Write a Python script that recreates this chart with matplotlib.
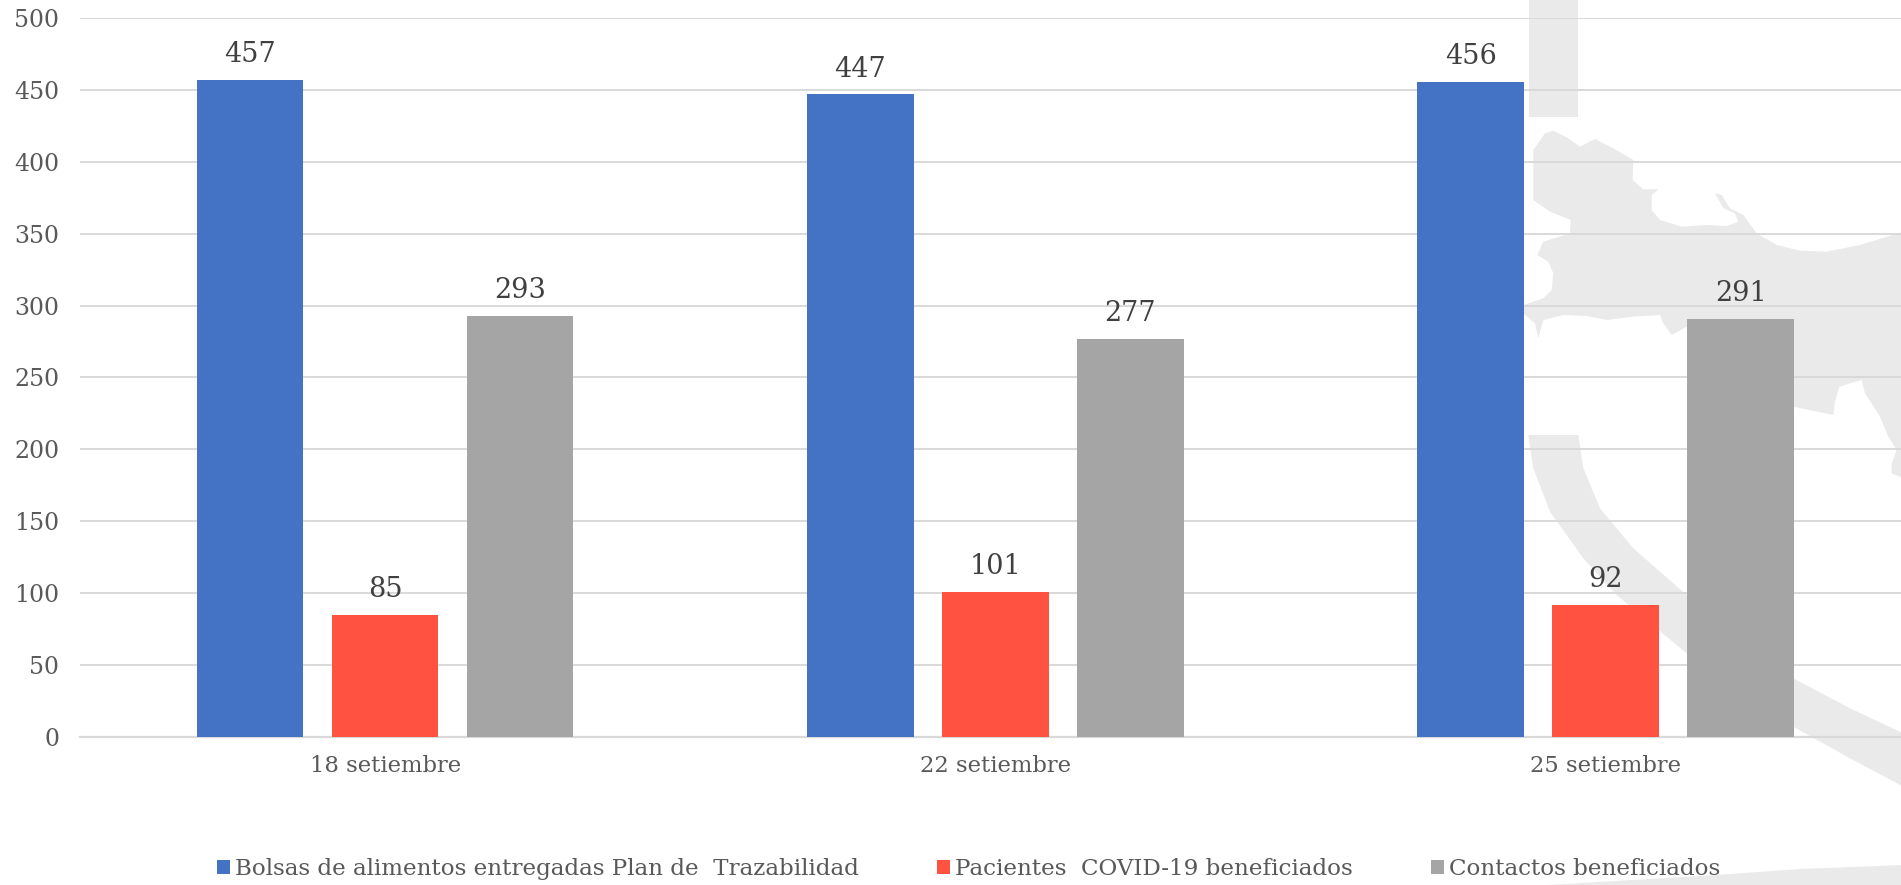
import matplotlib
matplotlib.use('Agg')
import matplotlib.pyplot as plt
import numpy as np
from matplotlib.patches import Polygon, Rectangle

W, H = 1901, 885

fechas = ['18 setiembre', '22 setiembre', '25 setiembre']
bolsas = [457, 447, 456]
pacientes = [85, 101, 92]
contactos = [293, 277, 291]
y_ticks = [0, 50, 100, 150, 200, 250, 300, 350, 400, 450, 500]
nombres = ['Bolsas de alimentos entregadas Plan de  Trazabilidad',
           'Pacientes  COVID-19 beneficiados',
           'Contactos beneficiados']

AZUL = '#4472c4'
ROJO = '#ff5240'
GRIS = '#a5a5a5'
MARCA = '#ebeaea'

plt.rcParams['font.family'] = ['DejaVu Serif']

fig = plt.figure(figsize=(W / 100, H / 100), dpi=100)

# watermark behind the chart, in pixels of the picture
bg = fig.add_axes([0, 0, 1, 1], zorder=0)
bg.set_xlim(0, W)
bg.set_ylim(H, 0)
bg.axis('off')


def zoom4(pts):
    return [(1500 + x / 3, 100 + y / 3) for x, y in pts]


def zoom5(pts):
    return [(1500 + x / 3, 425 + y / 3) for x, y in pts]


mapa = zoom4([(100, 150), (135, 100), (160, 92), (205, 115), (240, 140), (285, 117),
              (340, 145), (400, 180), (398, 240), (430, 268), (475, 268), (455, 285),
              (455, 330), (480, 360), (545, 380), (620, 375), (680, 378), (715, 365),
              (705, 340), (670, 325), (645, 280), (665, 285), (690, 325), (730, 345),
              (770, 400), (830, 435), (900, 452), (980, 455), (1080, 435), (1210, 395),
              (1210, 1135), (1175, 1120), (1175, 1090), (1190, 1050), (1165, 1010),
              (1140, 950), (1095, 880), (1085, 840), (1050, 850), (1018, 860),
              (1005, 905), (1000, 945), (880, 920), (560, 680), (515, 705), (490, 670),
              (480, 645), (400, 650), (320, 660), (260, 648), (190, 645), (130, 660),
              (115, 715), (105, 670), (70, 640), (70, 615), (130, 595), (155, 570),
              (160, 520), (145, 485), (112, 465), (130, 425), (210, 400), (212, 360),
              (150, 335), (100, 300)])
banda = zoom5([(85, 30), (235, 30), (250, 130), (300, 250), (400, 370), (560, 510),
               (880, 760), (1050, 850), (1210, 925), (1210, 1085), (1050, 1000),
               (880, 905), (560, 685), (350, 510), (250, 400), (150, 260), (100, 130)])
abajo = zoom5([(60, 1385), (650, 1350), (900, 1332), (1210, 1320), (1210, 1385)])
bg.add_patch(Rectangle((1529, -2), 49, 119, fc=MARCA, ec='none'))
bg.add_patch(Polygon(mapa, fc=MARCA, ec='none'))
bg.add_patch(Polygon(banda, fc=MARCA, ec='none'))
bg.add_patch(Polygon(abajo, fc=MARCA, ec='none'))

ax = fig.add_axes([80 / W, 1 - 736.7 / H, (W - 80) / W, (736.7 - 18.3) / H], zorder=1)
ax.patch.set_alpha(0)

x = np.arange(len(fechas))
ancho = 0.1746
paso = 0.2213
p1 = ax.bar(x - paso, bolsas, ancho, color=AZUL, linewidth=0, label=nombres[0], zorder=3)
p2 = ax.bar(x, pacientes, ancho, color=ROJO, linewidth=0, label=nombres[1], zorder=3)
p3 = ax.bar(x + paso, contactos, ancho, color=GRIS, linewidth=0, label=nombres[2], zorder=3)
for p in (p1, p2, p3):
    ax.bar_label(p, padding=8.5, fontsize=19.5, color='#404040')

ax.set_xlim(-0.5, 2.484)
ax.set_ylim(0, 500)
ax.set_yticks(y_ticks)
ax.set_xticks(x)
ax.set_xticklabels(fechas)
ax.grid(axis='y', color='#d9d9d9', linewidth=1.4, zorder=1)
ax.set_axisbelow(True)
ax.tick_params(axis='y', length=0, pad=15, labelsize=17, labelcolor='#595959')
ax.tick_params(axis='x', length=0, pad=13, labelsize=16.3, labelcolor='#595959')
for s in ['top', 'right', 'left']:
    ax.spines[s].set_visible(False)
ax.spines['bottom'].set_color('#d9d9d9')
ax.spines['bottom'].set_linewidth(1.6)

fig.legend(handles=[p1, p2, p3], loc='center left', bbox_to_anchor=(217 / W, 1 - 869 / H),
           ncol=3, frameon=False, fontsize=16.6, labelcolor='#595959', handlelength=0.57,
           handleheight=0.57, handletextpad=0.2, columnspacing=3.4, borderpad=0, borderaxespad=0)

fig.savefig('out.png', dpi=100)
